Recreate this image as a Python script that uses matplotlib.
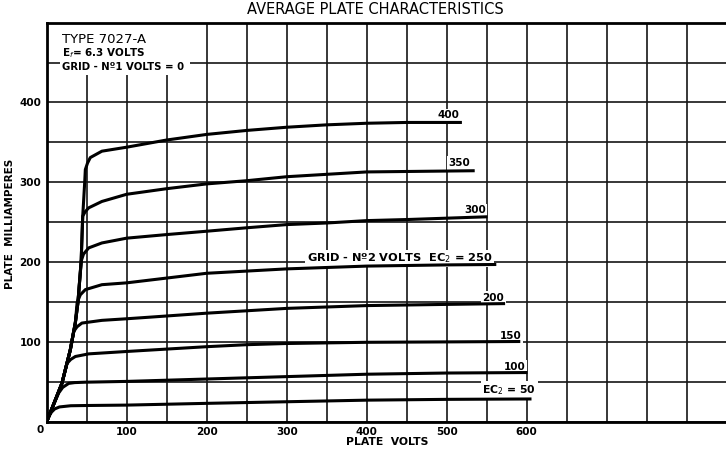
import matplotlib
matplotlib.use("Agg")
import matplotlib.pyplot as plt
from matplotlib.patches import Rectangle

# screen grid volts (curve labels) and the curves
ec2_labels = ["400", "350", "300", "GRID - N\u00ba2 VOLTS  EC$_2$ = 250", "200", "150", "100", "EC$_2$ = 50"]

v_400 = [0, 19, 29.5, 35.8, 39, 43, 45, 47.5, 48.3, 51, 54.5, 69, 100, 150, 200, 250, 300, 350, 400, 450, 519]
i_400 = [0, 48, 90, 124, 149, 199, 257, 300, 316, 324, 331, 339, 344, 353, 360, 365, 369, 372, 374, 375, 375]

v_350 = [0, 19, 29.5, 35.8, 39, 43, 45, 48, 52.5, 69, 100, 150, 200, 250, 300, 350, 400, 535]
i_350 = [0, 48, 90, 124, 149, 199, 257.5, 263, 268, 276, 285, 292, 298, 302, 307, 310, 313, 314.5]

v_300 = [0, 19, 29.5, 35.8, 39, 43, 46, 52.5, 69, 100, 150, 200, 250, 300, 350, 400, 452, 551]
i_300 = [0, 48, 90, 124, 149, 201, 210, 217.8, 224, 230, 234.5, 238.7, 243, 247, 249, 252, 253.4, 256.8]

v_250 = [0, 19, 29.5, 35.8, 38, 42, 48.3, 69, 100, 150, 200, 300, 400, 500, 562]
i_250 = [0, 48, 90, 124, 149, 159, 165.5, 171.7, 174, 180, 186, 191.5, 195, 196.5, 197]

v_200 = [0, 10, 19, 29.5, 33.7, 38, 44, 69, 100, 129, 200, 300, 400, 500, 573]
i_200 = [0, 25, 48, 90, 113, 119, 123.6, 127, 129, 131, 136, 142, 145.5, 147, 148]

v_150 = [0, 10, 19, 25.4, 30, 35.8, 52.5, 100, 150, 200, 250, 300, 400, 500, 592]
i_150 = [0, 25, 48, 73, 78, 81.7, 85, 88, 91, 94, 96.5, 98, 99.5, 100, 100.5]

v_100 = [0, 8, 15, 20, 27.5, 35, 48, 100, 200, 300, 400, 500, 601]
i_100 = [0, 20, 36, 43, 48, 49, 49.5, 50.5, 53.5, 56.5, 59.5, 61, 61.6]

v_50 = [0, 3, 6, 10, 16, 30, 50, 100, 200, 300, 400, 500, 606]
i_50 = [0, 7, 12, 16, 18.5, 20, 20.3, 20.8, 23, 25, 27, 28, 28.5]

# where each label sits (volts, mA)
label_v = [502, 516, 535, 441, 558, 580, 585, 578]
label_i = [384, 324, 265, 205, 155, 107, 69, 40]
label_size = [7.5, 7.5, 7.5, 8.2, 7.5, 7.5, 7.5, 7.8]

x_ticks = list(range(0, 851, 50))
x_ticklabels = [str(v) if (v % 100 == 0 and 0 < v <= 600) else "" for v in x_ticks]
y_ticks = list(range(0, 501, 50))
y_ticklabels = [str(v) if (v % 100 == 0 and 0 < v <= 400) else "" for v in y_ticks]

plt.rcParams["font.family"] = ["DejaVu Sans"]

fig = plt.figure(figsize=(7.26, 4.49), dpi=100)
ax = fig.add_axes([46.7 / 726, 27.3 / 449, 680 / 726, 399 / 449])
ax.set_xlim(0, 850)
ax.set_ylim(0, 500)

ax.set_xticks(x_ticks)
ax.set_xticklabels(x_ticklabels, fontsize=7.5, fontweight="bold")
ax.set_yticks(y_ticks)
ax.set_yticklabels(y_ticklabels, fontsize=7.5, fontweight="bold")
ax.tick_params(length=0, pad=4)
ax.set_axisbelow(True)
ax.grid(True, color="#151515", linewidth=1.2)

for side in ["left", "bottom", "top"]:
    ax.spines[side].set_linewidth(2)
ax.spines["right"].set_visible(False)

curves = [(v_400, i_400), (v_350, i_350), (v_300, i_300), (v_250, i_250),
          (v_200, i_200), (v_150, i_150), (v_100, i_100), (v_50, i_50)]
for v, i in curves:
    ax.plot(v, i, color="black", linewidth=2.2, solid_capstyle="butt", zorder=3)

white = dict(facecolor="white", edgecolor="none", pad=1.2)
for txt, lv, li, fs in zip(ec2_labels, label_v, label_i, label_size):
    ax.text(lv, li, txt, fontsize=fs, fontweight="bold", ha="center", va="center",
            bbox=white, zorder=2.8)

# corner zero
ax.text(-8, -11, "0", fontsize=7.5, fontweight="bold", ha="center", va="center", clip_on=False)

# tube data box, top left
ax.add_patch(Rectangle((16.6, 434), 162, 66, facecolor="white", edgecolor="none", zorder=1))
ax.text(19, 479, "TYPE 7027-A", fontsize=9.5, ha="left", va="center", zorder=4)
ax.text(19, 462, "E$_f$= 6.3 VOLTS", fontsize=7.5, fontweight="bold", ha="left", va="center", zorder=4)
ax.text(19, 445, "GRID - N\u00ba1 VOLTS = 0", fontsize=7.3, fontweight="bold", ha="left", va="center", zorder=4)

fig.text(375 / 726, 1 - 10 / 449, "AVERAGE PLATE CHARACTERISTICS", fontsize=10.5,
         ha="center", va="center")
fig.text(387 / 726, 1 - 442 / 449, "PLATE  VOLTS", fontsize=7.8, fontweight="bold",
         ha="center", va="center")
fig.text(10 / 726, 1 - 224 / 449, "PLATE  MILLIAMPERES", fontsize=7.5, fontweight="bold",
         ha="center", va="center", rotation=90)

fig.savefig("out.png", dpi=100, facecolor="white")
